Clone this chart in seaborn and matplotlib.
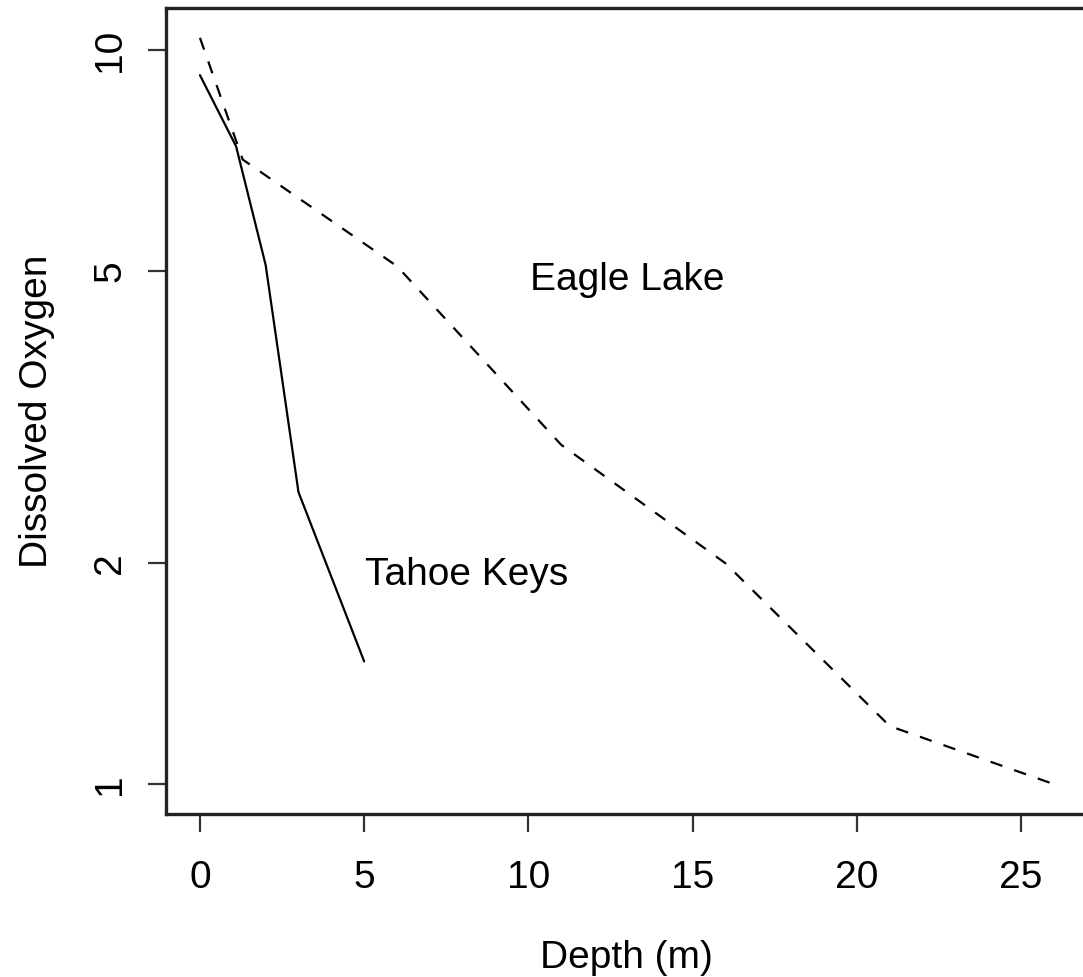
import numpy as np
import pandas as pd
import matplotlib
matplotlib.use("Agg")
import matplotlib.pyplot as plt
import seaborn as sns

# ---- data ----
tahoe_depth = [0, 1.1, 2, 3, 5]
tahoe_do = [9.25, 7.4, 5.1, 2.5, 1.47]
eagle_depth = [0, 1.3, 6, 11, 16, 21, 26]
eagle_do = [10.4, 7.1, 5.08, 2.9, 2.0, 1.2, 1.0]
x_ticks = [0, 5, 10, 15, 20, 25]
y_ticks = [1, 2, 5, 10]
y_tick_labels = ["1", "2", "5", "10"]

df = pd.concat([
    pd.DataFrame({"Depth": tahoe_depth, "DO": tahoe_do, "Lake": "Tahoe Keys"}),
    pd.DataFrame({"Depth": eagle_depth, "DO": eagle_do, "Lake": "Eagle Lake"}),
], ignore_index=True)

sns.set_style("white")
plt.rcParams["font.family"] = ["Liberation Sans", "DejaVu Sans"]
plt.rcParams["text.color"] = "black"
plt.rcParams["axes.labelcolor"] = "black"
plt.rcParams["xtick.color"] = "black"
plt.rcParams["ytick.color"] = "black"

DPI = 100
fig = plt.figure(figsize=(10.83, 9.77), dpi=DPI)
ax = fig.add_axes([165.8 / 1083, (977 - 814) / 977, 922.2 / 1083, 806 / 977])

lw = 1.6
sns.lineplot(data=df[df.Lake == "Tahoe Keys"], x="Depth", y="DO", ax=ax,
             color="black", linewidth=lw, estimator=None, sort=False)
sns.lineplot(data=df[df.Lake == "Eagle Lake"], x="Depth", y="DO", ax=ax,
             color="black", linewidth=lw, estimator=None, sort=False,
             linestyle=(0, (9 / lw, 9 / lw)))

ax.set_yscale("log")
# R-style 4% padding
all_x = np.array(tahoe_depth + eagle_depth, dtype=float)
all_y = np.log10(np.array(tahoe_do + eagle_do, dtype=float))
xr = all_x.max() - all_x.min()
ax.set_xlim(all_x.min() - 0.04 * xr, all_x.max() + 0.04 * xr)
yr = all_y.max() - all_y.min()
ax.set_ylim(10 ** (all_y.min() - 0.04 * yr), 10 ** (all_y.max() + 0.04 * yr))

fs = 28
ax.set_xticks(x_ticks)
ax.set_xticklabels([str(t) for t in x_ticks], fontsize=fs, color="black")
ax.set_yticks(y_ticks)
ax.set_yticklabels(y_tick_labels, fontsize=fs, rotation=90, va="center", color="black")
ax.yaxis.set_minor_locator(matplotlib.ticker.NullLocator())
ax.tick_params(axis="both", which="major", length=13, width=1.6, color="#333333",
               direction="out", bottom=True, left=True, top=False, right=False)
ax.tick_params(axis="x", pad=20)
ax.tick_params(axis="y", pad=14)

for s in ax.spines.values():
    s.set_color("#222222")
    s.set_linewidth(2.4)

ax.set_xlabel("Depth (m)", fontsize=fs, va="baseline", color="black")
ax.xaxis.set_label_coords(0.5, (814 - 968) / 806)
ax.set_ylabel("Dissolved Oxygen", fontsize=fs, va="baseline", color="black")
ax.yaxis.set_label_coords((47 - 165.8) / 922.2, 0.5)

ax.text(13.0, 4.71, "Eagle Lake", fontsize=fs, ha="center", va="baseline", color="black")
ax.text(8.13, 1.866, "Tahoe Keys", fontsize=fs, ha="center", va="baseline", color="black")

ax.grid(False)
fig.savefig("out.png", dpi=DPI)
